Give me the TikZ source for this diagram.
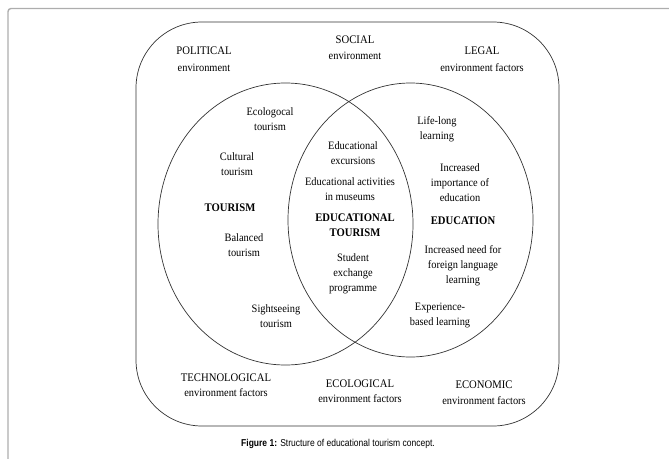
\documentclass[tikz,border=0pt]{standalone}
\usepackage{fontspec}
\setmainfont[FakeStretch=0.92]{Liberation Serif}
\newfontfamily\capfont[FakeStretch=0.85]{Liberation Sans}
\begin{document}
\begin{tikzpicture}[x=1pt,y=-1pt,
  lbltxt/.style={align=center,inner sep=0pt,font=\fontsize{11.3}{15}\selectfont},
  envcaps/.style={align=center,inner sep=0pt,font=\fontsize{11.6}{15}\selectfont},
  boldtxt/.style={align=center,inner sep=0pt,font=\fontsize{11.6}{15}\selectfont\bfseries},
  outl/.style={draw=black!80,line width=0.7pt}]
\useasboundingbox (0,0) rectangle (669,458);
% page frame
\draw[black!32,line width=1.4pt,rounded corners=3pt] (8,470) -- (8,8.5) -- (680,8.5);
% environment box
\draw[outl,rounded corners=66pt] (136,22) rectangle (559,426);
% circles
\draw[outl] (285.5,224) ellipse [x radius=127.5pt, y radius=141pt];
\draw[outl] (410.5,220) ellipse [x radius=122.5pt, y radius=137pt];
% environment labels
\node[envcaps] (pol) at (204,51) {POLITICAL};
\node[lbltxt] (pole) at (204,68) {environment};
\node[envcaps] (soc) at (355,40) {SOCIAL};
\node[lbltxt] (soce) at (355,56) {environment};
\node[envcaps] (leg) at (482,51) {LEGAL};
\node[lbltxt] (lege) at (482,68) {environment factors};
\node[envcaps] (tec) at (226,378) {TECHNOLOGICAL};
\node[lbltxt] (tece) at (226,393) {environment factors};
\node[envcaps] (eco) at (360,384) {ECOLOGICAL};
\node[lbltxt] (ecoe) at (360,399) {environment factors};
\node[envcaps] (ecn) at (484,385) {ECONOMIC};
\node[lbltxt] (ecne) at (484,401) {environment factors};
% tourism
\node[lbltxt] (t1) at (270,119.5) {Ecologocal\\tourism};
\node[lbltxt] (t2) at (237,164.5) {Cultural\\tourism};
\node[boldtxt] (tour) at (230,208) {TOURISM};
\node[lbltxt] (t3) at (244,245.5) {Balanced\\tourism};
\node[lbltxt] (t4) at (276,316.5) {Sightseeing\\tourism};
% educational tourism
\node[lbltxt] (e1) at (353,153.5) {Educational\\excursions};
\node[lbltxt] (e2) at (350,189.5) {Educational activities\\in museums};
\node[boldtxt] (edt) at (355,225.5) {EDUCATIONAL\\TOURISM};
\node[lbltxt] (e3) at (353,273.5) {Student\\exchange\\programme};
% education
\node[lbltxt] (d1) at (437,129.5) {Life-long\\learning};
\node[lbltxt] (d2) at (460,183) {Increased\\importance of\\education};
\node[boldtxt] (edu) at (463,221) {EDUCATION};
\node[lbltxt] (d3) at (463,265.5) {Increased need for\\foreign language\\learning};
\node[lbltxt] (d4) at (440,315.5) {Experience-\\based learning};
% caption
\node[inner sep=0pt,font=\capfont\fontsize{10}{12}\selectfont] (capt) at (338,444) {\textbf{Figure 1:} Structure of educational tourism concept.};
\end{tikzpicture}
\end{document}
